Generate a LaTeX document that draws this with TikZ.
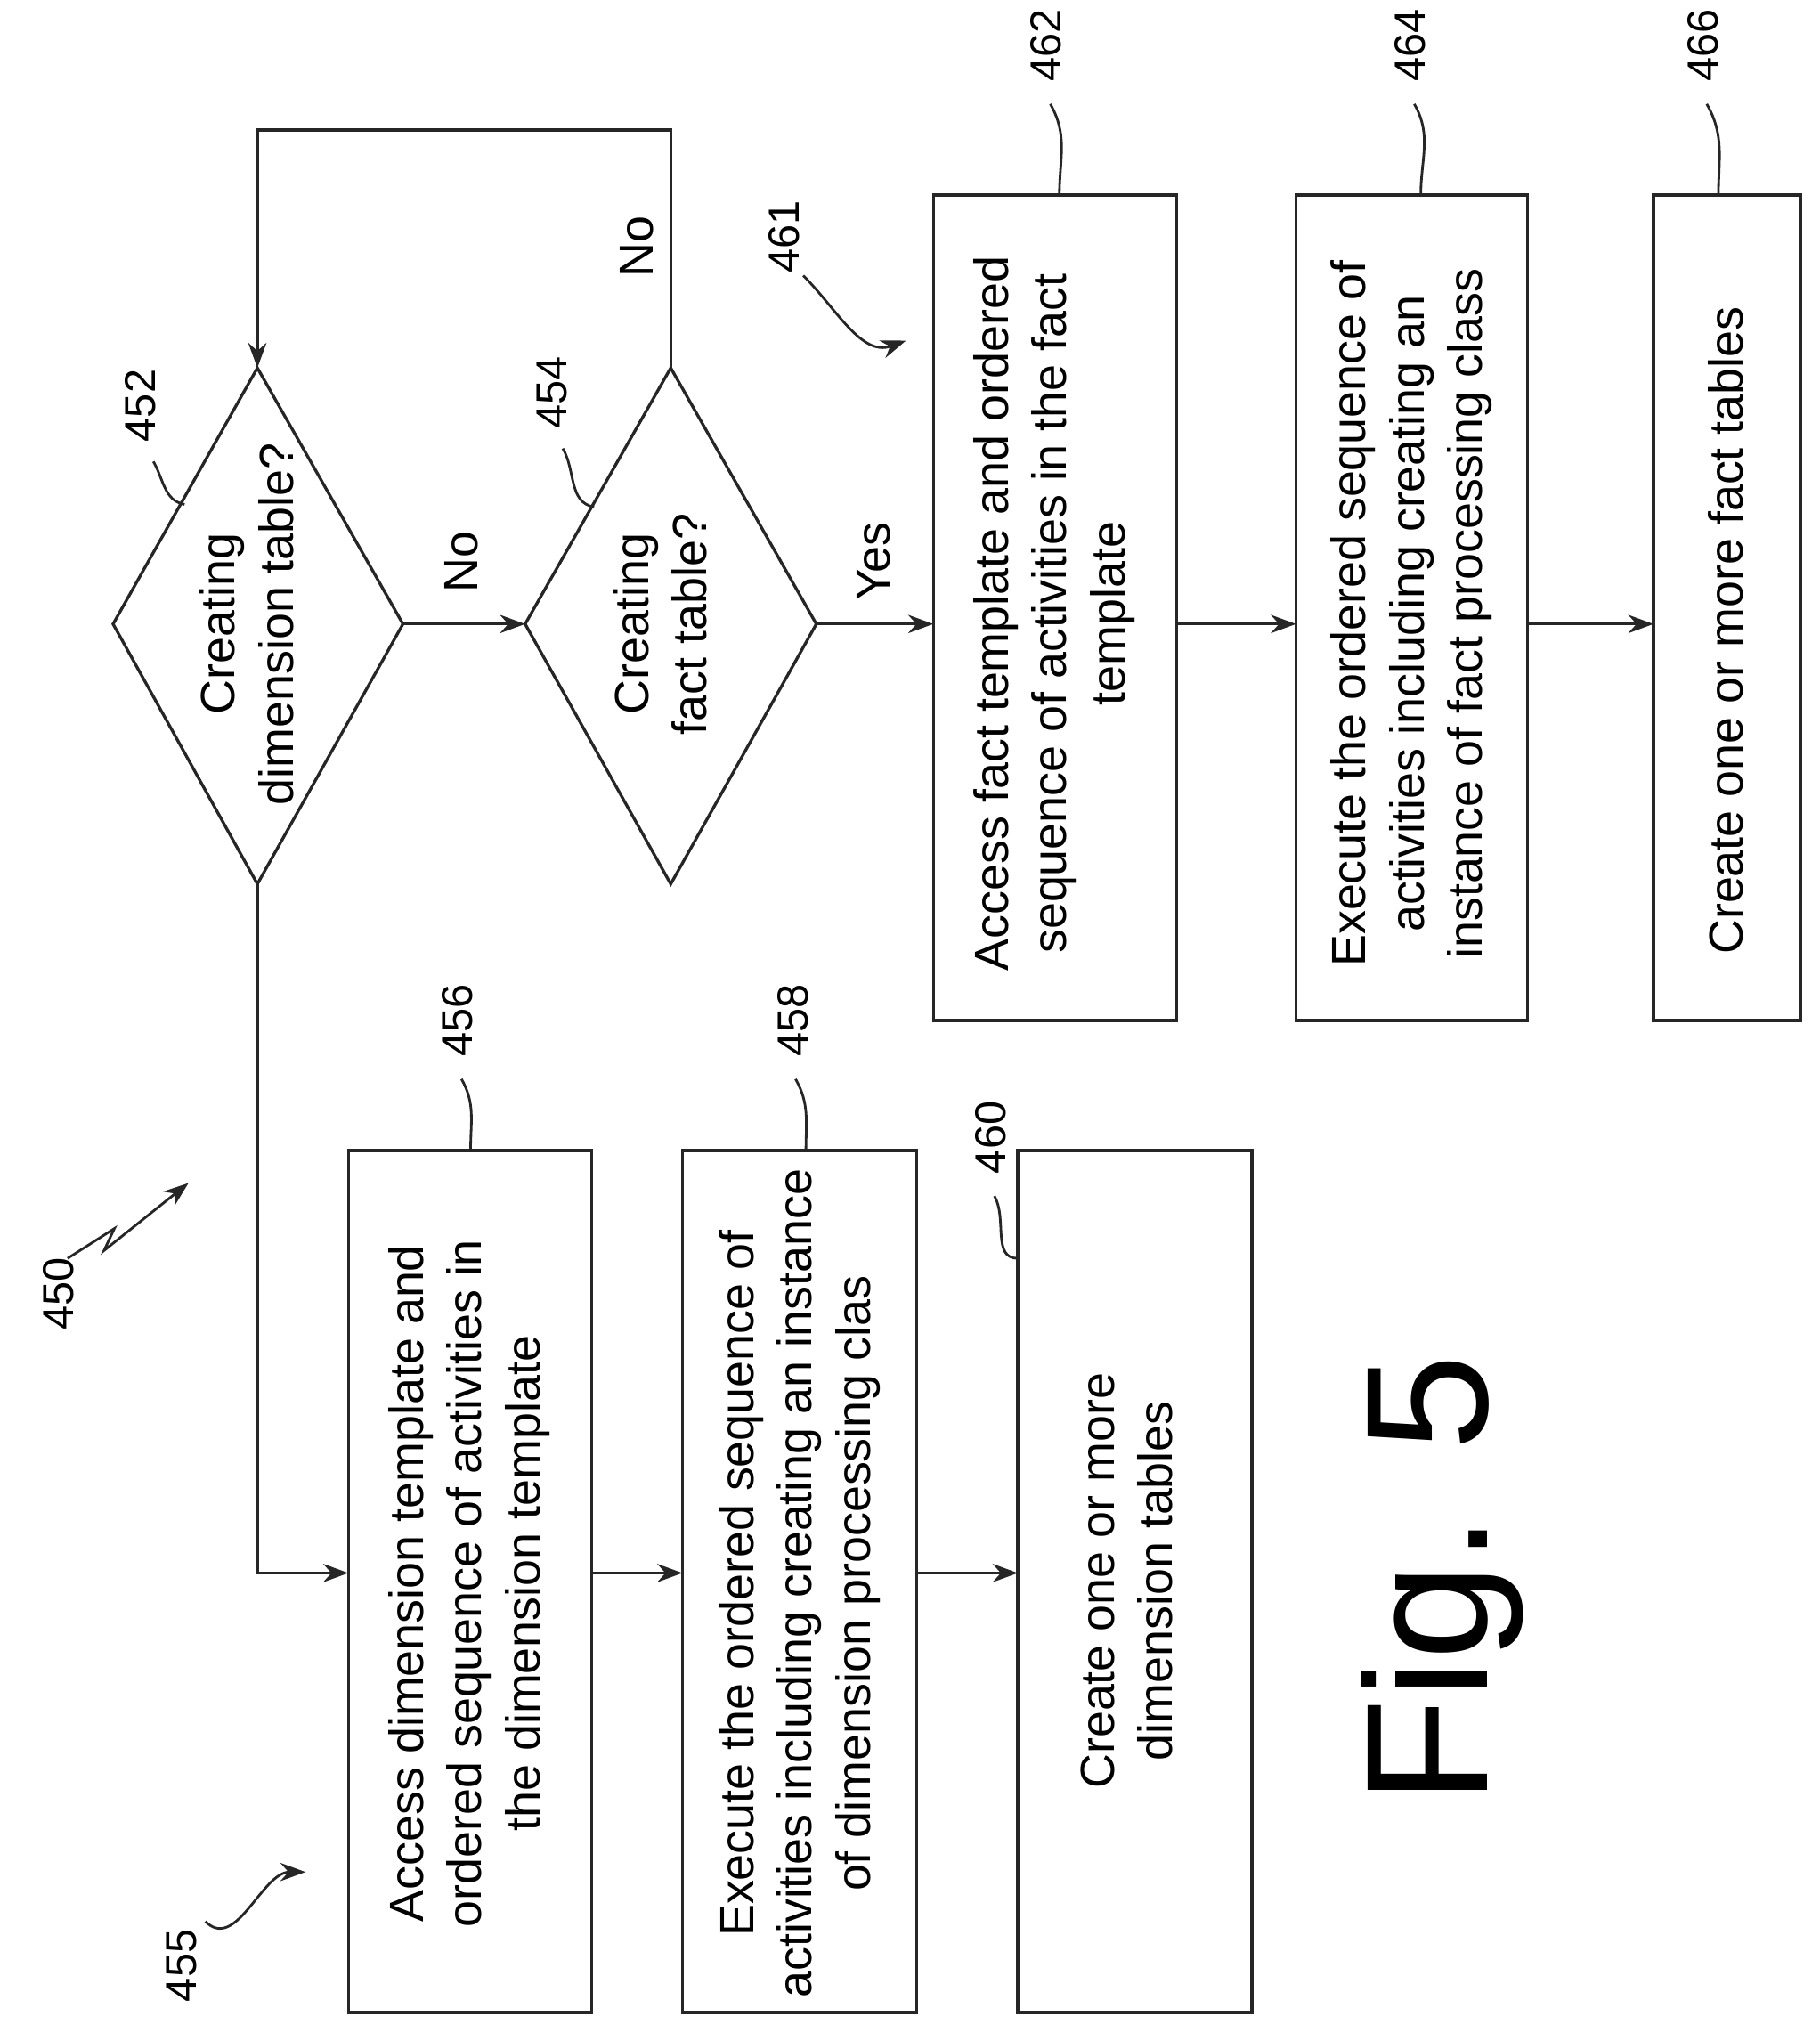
\documentclass[tikz,border=0pt]{standalone}
\usepackage{fontspec}
\setmainfont{Liberation Sans}
\usetikzlibrary{shapes.geometric,arrows.meta}
\begin{document}
\begin{tikzpicture}[x=0.02cm,y=-0.02cm,
  ln/.style={line width=1.3pt,draw=black!85},
  ar/.style={ln,-{Stealth[length=11pt,width=8pt]}},
  txt/.style={rotate=90,align=center,font=\fontsize{21}{25.5}\selectfont},
  lab/.style={rotate=90,font=\fontsize{19}{22}\selectfont},
  lead/.style={line width=1.1pt,draw=black!85}]
\useasboundingbox (0,0) rectangle (1400,1570);
% diamonds
\draw[ln] (198,283) coordinate (d1t) -- (310,480) coordinate (d1r) -- (198,680) coordinate (d1b) -- (87,480) -- cycle;
\node[txt] (d1) at (190,480) {Creating\\dimension table?};
\draw[ln] (516,283) coordinate (d2t) -- (628,480) coordinate (d2r) -- (516,680) -- (404,480) coordinate (d2l) -- cycle;
\node[txt] (d2) at (508,480) {Creating\\fact table?};
% boxes
\draw[ln] (718,150) rectangle (905,785); \coordinate (b462l) at (718,480); \coordinate (b462r) at (905,480);
\node[txt] (t462) at (811,472) {Access fact template and ordered\\sequence of activities in the fact\\template};
\draw[ln] (997,150) rectangle (1175,785); \coordinate (b464l) at (997,480); \coordinate (b464r) at (1175,480);
\node[txt] (t464) at (1086,472) {Execute the ordered sequence of\\activities including creating an\\instance of fact processing class};
\draw[ln] (1272,150) rectangle (1385,785); \coordinate (b466l) at (1272,480);
\node[txt] (t466) at (1328,485) {Create one or more fact tables};
\draw[ln] (268,885) rectangle (455,1548); \coordinate (b456l) at (268,1210); \coordinate (b456r) at (455,1210);
\node[txt] (t456) at (361,1218) {Access dimension template and\\ordered sequence of activities in\\the dimension template};
\draw[ln] (525,885) rectangle (705,1548); \coordinate (b458l) at (525,1210); \coordinate (b458r) at (705,1210);
\node[txt] (t458) at (615,1218) {Execute the ordered sequence of\\activities including creating an instance\\of dimension processing clas};
\draw[ln] (783,885) rectangle (963,1548); \coordinate (b460l) at (783,1210);
\node[txt] (t460) at (867,1216) {Create one or more\\dimension tables};
% connectors
\draw[ar] (d2t) -- (516,100) -- (198,100) -- (d1t);
\draw[ar] (d1r) -- (d2l);
\draw[ar] (d2r) -- (b462l);
\draw[ar] (b462r) -- (b464l);
\draw[ar] (b464r) -- (b466l);
\draw[ar] (d1b) -- (198,1210) -- (b456l);
\draw[ar] (b456r) -- (b458l);
\draw[ar] (b458r) -- (b460l);
% branch labels
\node[txt] (no1) at (490,190) {No};
\node[txt] (no2) at (355,432) {No};
\node[txt] (yes) at (672,432) {Yes};
% reference numerals
\node[lab] (n452) at (108,312) {452};
\draw[lead] (118,355) to[out=-60,in=170] (142,388);
\node[lab] (n454) at (425,302) {454};
\draw[lead] (433,345) to[out=-60,in=170] (457,390);
\node[lab] (n456) at (352,785) {456};
\draw[lead] (355,830) to[out=-60,in=90] (362,885);
\node[lab] (n458) at (610,785) {458};
\draw[lead] (612,830) to[out=-60,in=90] (620,885);
\node[lab] (n460) at (762,875) {460};
\draw[lead] (765,920) to[out=-60,in=180] (783,968);
\node[lab] (n462) at (805,35) {462};
\draw[lead] (808,80) to[out=-60,in=90] (815,150);
\node[lab] (n464) at (1085,35) {464};
\draw[lead] (1088,80) to[out=-60,in=90] (1093,150);
\node[lab] (n466) at (1310,35) {466};
\draw[lead] (1313,80) to[out=-60,in=90] (1322,150);
\node[lab] (n461) at (603,182) {461};
\draw[ar,line width=1.1pt] (618,212) to[out=-45,in=200] (697,262);
\node[lab] (n455) at (140,1512) {455};
\draw[ar,line width=1.1pt] (158,1478) to[out=-45,in=180] (235,1440);
\node[lab] (n450) at (45,995) {450};
\draw[ar,line width=1.1pt] (52,968) -- (88,945) -- (80,962) -- (145,910);
\node[rotate=90,font=\fontsize{76}{84}\selectfont] (fig) at (1110,1215) {Fig. 5};
\end{tikzpicture}
\end{document}
